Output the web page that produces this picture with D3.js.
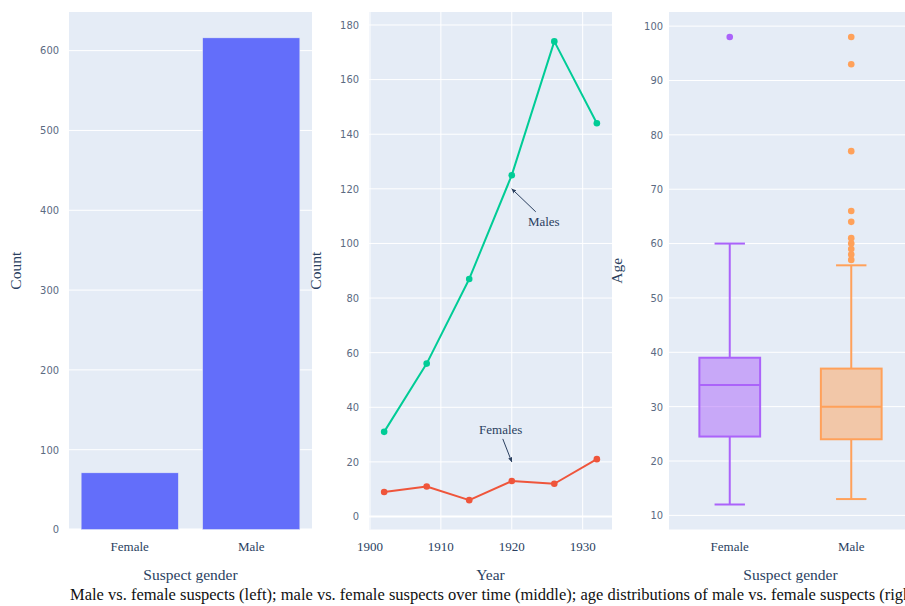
<!DOCTYPE html>
<html>
<head>
<meta charset="utf-8">
<script src="https://cdn.jsdelivr.net/npm/d3@7"></script>
<style>
  body { margin: 0; background: #fff; }
  svg { display: block; font-family: "Liberation Serif", "Times New Roman", serif; }
  .ytick { font-family: "Liberation Sans Narrow", "DejaVu Sans Condensed", "Liberation Sans", sans-serif; }
</style>
</head>
<body>
<svg id="chart" width="905" height="606"></svg>
<script>
// ---- data ----
const genders = ["Female", "Male"];
const suspectCounts = [71, 616];

const years = [1902, 1908, 1914, 1920, 1926, 1932];
const maleByYear = [31, 56, 87, 125, 174, 144];
const femaleByYear = [9, 11, 6, 13, 12, 21];

const annotLabels = ["Males", "Females"];
const annotYears = [1920, 1920];
const annotValues = [120, 20];

// box summaries per gender (same order as genders)
const ageLower = [12, 13];
const ageQ1 = [24.5, 24];
const ageMedian = [34, 30];
const ageQ3 = [39, 37];
const ageUpper = [60, 56];
const femaleAgeOutliers = [98];
const maleAgeOutliers = [98, 93, 77, 66, 64, 61, 60, 59, 58, 57];

const countTicksLeft = [0, 100, 200, 300, 400, 500, 600];
const countTicksMid = [0, 20, 40, 60, 80, 100, 120, 140, 160, 180];
const yearTicks = [1900, 1910, 1920, 1930];
const ageTicks = [10, 20, 30, 40, 50, 60, 70, 80, 90, 100];

const caption = "Male vs. female suspects (left); male vs. female suspects over time (middle); age distributions of male vs. female suspects (right).";

// ---- layout ----
const svg = d3.select("#chart");
const W = 243, TOP = 12, H = 517.5;
const panelX = [69, 369, 669];
const BG = "#E5ECF6", INK = "#2a3f5f", TICK = "#5b6a82";
const boxColors = ["#ab63fa", "#FFA15A"];

// numeric domain padded by a pixel amount on both sides
function paddedDomain(lo, hi, lenPx, padPx) {
  const u = (hi - lo) / (lenPx - 2 * padPx);
  return [lo - padPx * u, hi + padPx * u];
}

function panel(i) {
  const g = svg.append("g").attr("transform", `translate(${panelX[i]},${TOP})`);
  g.append("rect").attr("width", W).attr("height", H).attr("fill", BG);
  return g;
}

function yGrid(g, y, ticks, labelGap, zero) {
  g.append("g").selectAll("line").data(ticks).join("line")
    .attr("x1", 0).attr("x2", W)
    .attr("y1", d => y(d)).attr("y2", d => y(d))
    .attr("stroke", "#fff")
    .attr("stroke-width", d => (zero && d === 0) ? 2 : 1);
  g.append("g").selectAll("text").data(ticks).join("text")
    .attr("class", "ytick")
    .attr("x", -labelGap).attr("y", d => y(d)).attr("dy", "0.35em")
    .attr("text-anchor", "end").attr("font-size", 11).attr("fill", TICK)
    .text(d => d);
}

function xLabels(g, xs, texts) {
  g.append("g").selectAll("text").data(xs).join("text")
    .attr("x", d => d).attr("y", H + 21)
    .attr("text-anchor", "middle").attr("font-size", 13).attr("fill", INK)
    .text((d, i) => texts[i]);
}

function titles(g, xTitle, yTitle, yTitleX) {
  g.append("text").attr("x", W / 2).attr("y", H + 50)
    .attr("text-anchor", "middle").attr("font-size", 15.5).attr("fill", INK)
    .text(xTitle);
  g.append("text")
    .attr("transform", `translate(${yTitleX},${H / 2}) rotate(-90)`)
    .attr("text-anchor", "middle").attr("dy", "0.35em")
    .attr("font-size", 15.5).attr("fill", INK)
    .text(yTitle);
}

// ---- left: counts by gender ----
{
  const g = panel(0);
  const x = d3.scaleBand().domain(genders).range([0, W]).paddingInner(0.2).paddingOuter(0.1);
  const y = d3.scaleLinear().domain([0, d3.max(suspectCounts) * 1.0526]).range([H, 0]);
  yGrid(g, y, countTicksLeft, 10, true);
  g.append("g").selectAll("rect").data(genders).join("rect")
    .attr("x", d => x(d)).attr("width", x.bandwidth())
    .attr("y", (d, i) => y(suspectCounts[i]))
    .attr("height", (d, i) => y(0) - y(suspectCounts[i]))
    .attr("fill", "#636efa").attr("stroke", BG).attr("stroke-width", 0.5);
  xLabels(g, genders.map(d => x(d) + x.bandwidth() / 2), genders);
  titles(g, "Suspect gender", "Count", -53);
}

// ---- middle: counts over time ----
{
  const g = panel(1);
  const x = d3.scaleLinear()
    .domain(paddedDomain(d3.min(years), d3.max(years), W, 0.05 * W + 3))
    .range([0, W]);
  const allVals = maleByYear.concat(femaleByYear);
  const y = d3.scaleLinear()
    .domain(paddedDomain(d3.min(allVals), d3.max(allVals), H, 0.05 * H + 3.5))
    .range([H, 0]);
  g.append("g").selectAll("line").data(yearTicks).join("line")
    .attr("x1", d => x(d)).attr("x2", d => x(d))
    .attr("y1", 0).attr("y2", H).attr("stroke", "#fff");
  yGrid(g, y, countTicksMid, 10, true);
  xLabels(g, yearTicks.map(d => x(d)), yearTicks);

  const series = [
    { vals: maleByYear, color: "#00cc96" },
    { vals: femaleByYear, color: "#EF553B" }
  ];
  const line = d3.line().x((d, i) => x(years[i])).y(d => y(d));
  series.forEach(s => {
    g.append("path").datum(s.vals).attr("d", line)
      .attr("fill", "none").attr("stroke", s.color).attr("stroke-width", 2)
      .attr("stroke-linejoin", "round");
    g.append("g").selectAll("circle").data(s.vals).join("circle")
      .attr("cx", (d, i) => x(years[i])).attr("cy", d => y(d)).attr("r", 3.3)
      .attr("fill", s.color);
  });

  // arrow annotations
  svg.append("defs").append("marker")
    .attr("id", "arrowhead").attr("viewBox", "0 0 10 10")
    .attr("refX", 9).attr("refY", 5)
    .attr("markerWidth", 5).attr("markerHeight", 5)
    .attr("orient", "auto-start-reverse")
    .append("path").attr("d", "M0,1 L10,5 L0,9 Z").attr("fill", INK);
  const textOffset = [[32, 33], [-11, -32]];
  const tailOffset = [[24, 23], [-9, -23]];
  annotLabels.forEach((lab, i) => {
    const hx = x(annotYears[i]), hy = y(annotValues[i]);
    g.append("line")
      .attr("x1", hx + tailOffset[i][0]).attr("y1", hy + tailOffset[i][1])
      .attr("x2", hx).attr("y2", hy)
      .attr("stroke", INK).attr("stroke-width", 1)
      .attr("marker-end", "url(#arrowhead)");
    g.append("text")
      .attr("x", hx + textOffset[i][0]).attr("y", hy + textOffset[i][1])
      .attr("dy", "0.35em").attr("text-anchor", "middle")
      .attr("font-size", 13).attr("fill", INK)
      .text(lab);
  });
  titles(g, "Year", "Count", -53);
}

// ---- right: age distributions ----
{
  const g = panel(2);
  const x = d3.scaleBand().domain(genders).range([0, W]).paddingInner(0.2).paddingOuter(0.1);
  const allAges = ageLower.concat(ageUpper, femaleAgeOutliers, maleAgeOutliers);
  const y = d3.scaleLinear()
    .domain(paddedDomain(d3.min(allAges), d3.max(allAges), H, 25))
    .range([H, 0]);
  yGrid(g, y, ageTicks, 6, false);
  const outliers = [femaleAgeOutliers, maleAgeOutliers];
  const boxW = x.step() * 0.5;
  genders.forEach((gd, i) => {
    const cx = x(gd) + x.bandwidth() / 2;
    const c = boxColors[i];
    const b = g.append("g");
    // whiskers
    b.append("line").attr("x1", cx).attr("x2", cx)
      .attr("y1", y(ageUpper[i])).attr("y2", y(ageQ3[i]))
      .attr("stroke", c).attr("stroke-width", 2);
    b.append("line").attr("x1", cx).attr("x2", cx)
      .attr("y1", y(ageQ1[i])).attr("y2", y(ageLower[i]))
      .attr("stroke", c).attr("stroke-width", 2);
    [ageUpper[i], ageLower[i]].forEach(v => {
      b.append("line").attr("x1", cx - boxW / 4).attr("x2", cx + boxW / 4)
        .attr("y1", y(v)).attr("y2", y(v))
        .attr("stroke", c).attr("stroke-width", 2);
    });
    // box
    b.append("rect")
      .attr("x", cx - boxW / 2).attr("width", boxW)
      .attr("y", y(ageQ3[i])).attr("height", y(ageQ1[i]) - y(ageQ3[i]))
      .attr("fill", c).attr("fill-opacity", 0.5)
      .attr("stroke", c).attr("stroke-width", 2);
    b.append("line").attr("x1", cx - boxW / 2).attr("x2", cx + boxW / 2)
      .attr("y1", y(ageMedian[i])).attr("y2", y(ageMedian[i]))
      .attr("stroke", c).attr("stroke-width", 2);
    b.append("g").selectAll("circle").data(outliers[i]).join("circle")
      .attr("cx", cx).attr("cy", d => y(d)).attr("r", 3.3).attr("fill", c);
  });
  xLabels(g, genders.map(d => x(d) + x.bandwidth() / 2), genders);
  titles(g, "Suspect gender", "Age", -52);
}

// ---- caption ----
svg.append("text")
  .attr("x", 70).attr("y", 600)
  .attr("font-size", 16.5).attr("fill", "#111")
  .text(caption);
</script>
</body>
</html>
